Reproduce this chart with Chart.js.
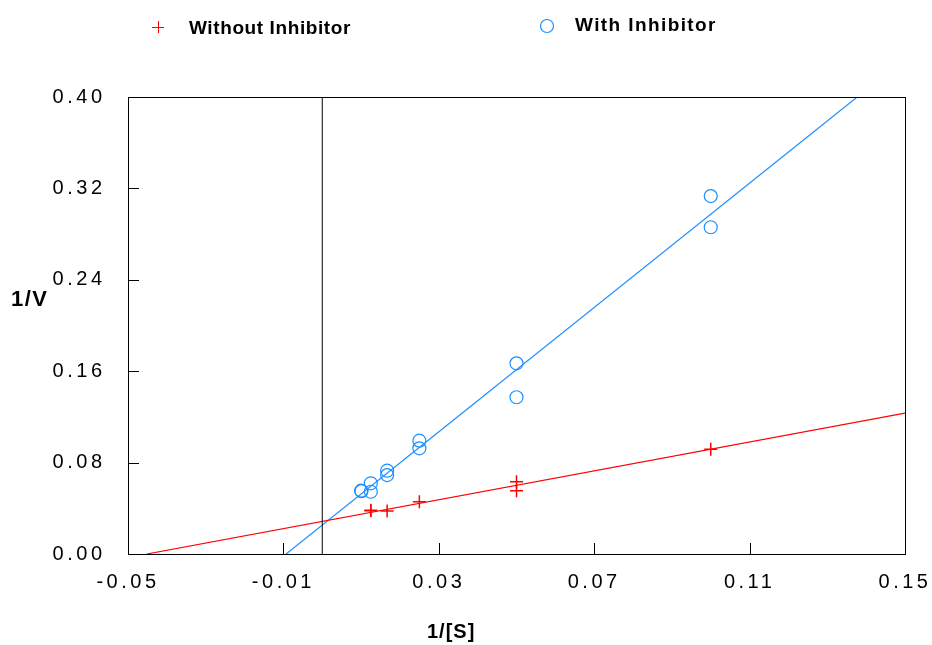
<!DOCTYPE html>
<html>
<head>
<meta charset="utf-8">
<script src="https://cdn.jsdelivr.net/npm/chart.js@4/dist/chart.umd.min.js"></script>
<style>
  html, body { margin: 0; padding: 0; background: #fff; }
  #wrap { width: 932px; height: 645px; }
</style>
</head>
<body>
<div id="wrap"><canvas id="lbChart"></canvas></div>
<script>
// data
const withoutX = [0.0125, 0.0125, 0.0167, 0.025, 0.05, 0.05, 0.1];
const withoutY = [0.0378, 0.0384, 0.0376, 0.0457, 0.0633, 0.0554, 0.0916];
const withX = [0.01, 0.0101, 0.0125, 0.0125, 0.0167, 0.0167, 0.025, 0.025, 0.05, 0.05, 0.1, 0.1];
const withY = [0.0554, 0.0550, 0.0619, 0.0545, 0.0729, 0.0691, 0.0992, 0.0925, 0.1669, 0.1372, 0.3133, 0.2860];

// fitted lines (end points)
const fitWithoutX = [-0.0452, 0.15];
const fitWithoutY = [0, 0.1234];
const fitWithX = [-0.0093, 0.1377];
const fitWithY = [0, 0.40];
const zeroLineX = [0, 0];
const zeroLineY = [0, 0.40];

const xTicks = [-0.05, -0.01, 0.03, 0.07, 0.11, 0.15];
const yTicks = [0.00, 0.08, 0.16, 0.24, 0.32, 0.40];

const RED = '#ff0000';
const BLUE = '#1e8fff';
const FONT = '"Liberation Sans", Arial, sans-serif';

function pts(xs, ys) {
    return xs.map((x, i) => ({ x: x, y: ys[i] }));
}

function spacedText(ctx, text, x, y, spacing) {
    ctx.letterSpacing = spacing + 'px';
    ctx.fillText(text, x, y);
}

// box, inner ticks, titles and legend
const decorPlugin = {
    id: 'decor',
    beforeDraw(chart) {
        chart.ctx.letterSpacing = '3.5px';
    },
    afterDraw(chart) {
        const ctx = chart.ctx;
        const a = chart.chartArea;
        const xs = chart.scales.x;
        const ys = chart.scales.y;
        ctx.save();
        ctx.letterSpacing = '0px';
        ctx.strokeStyle = '#000';
        ctx.lineWidth = 1;
        ctx.strokeRect(Math.round(a.left) + 0.5, Math.round(a.top) + 0.5,
            Math.round(a.right - a.left), Math.round(a.bottom - a.top));
        ctx.beginPath();
        xTicks.slice(1, -1).forEach(v => {
            const px = Math.round(xs.getPixelForValue(v)) + 0.5;
            ctx.moveTo(px, a.bottom);
            ctx.lineTo(px, a.bottom - 11);
        });
        yTicks.slice(1, -1).forEach(v => {
            const py = Math.round(ys.getPixelForValue(v)) + 0.5;
            ctx.moveTo(a.left, py);
            ctx.lineTo(a.left + 11, py);
        });
        ctx.stroke();

        ctx.fillStyle = '#000';
        ctx.textAlign = 'left';
        ctx.textBaseline = 'alphabetic';
        ctx.font = 'bold 22px ' + FONT;
        spacedText(ctx, '1/V', 11, 306, 1.5);
        ctx.font = 'bold 20px ' + FONT;
        spacedText(ctx, '1/[S]', 427, 638, 1);

        ctx.font = 'bold 19px ' + FONT;
        spacedText(ctx, 'Without Inhibitor', 189, 34, 0.6);
        spacedText(ctx, 'With Inhibitor', 575, 31, 1.4);

        ctx.strokeStyle = RED;
        ctx.beginPath();
        ctx.moveTo(152, 27.5); ctx.lineTo(164, 27.5);
        ctx.moveTo(158.5, 21); ctx.lineTo(158.5, 33);
        ctx.stroke();

        ctx.strokeStyle = BLUE;
        ctx.lineWidth = 1.2;
        ctx.beginPath();
        ctx.arc(547, 26, 6.5, 0, Math.PI * 2);
        ctx.stroke();
        ctx.restore();
    }
};

const chart = new Chart(document.getElementById('lbChart'), {
    type: 'scatter',
    data: {
        datasets: [
            {
                label: 'zero',
                data: pts(zeroLineX, zeroLineY),
                showLine: true,
                borderColor: '#000',
                borderWidth: 1,
                pointRadius: 0
            },
            {
                label: 'fit without',
                data: pts(fitWithoutX, fitWithoutY),
                showLine: true,
                borderColor: RED,
                borderWidth: 1.2,
                pointRadius: 0
            },
            {
                label: 'fit with',
                data: pts(fitWithX, fitWithY),
                showLine: true,
                borderColor: BLUE,
                borderWidth: 1.2,
                pointRadius: 0
            },
            {
                label: 'Without Inhibitor',
                data: pts(withoutX, withoutY),
                pointStyle: 'cross',
                pointRadius: 6.5,
                borderColor: RED,
                backgroundColor: RED,
                pointBorderWidth: 1.5
            },
            {
                label: 'With Inhibitor',
                data: pts(withX, withY),
                pointStyle: 'circle',
                pointRadius: 6.5,
                borderColor: BLUE,
                backgroundColor: 'rgba(0,0,0,0)',
                pointBorderWidth: 1.2
            }
        ]
    },
    options: {
        responsive: true,
        maintainAspectRatio: false,
        animation: false,
        events: [],
        layout: { padding: { top: 97, right: 27, left: 0, bottom: 0 } },
        plugins: {
            legend: { display: false },
            tooltip: { enabled: false }
        },
        scales: {
            x: {
                type: 'linear',
                min: -0.05,
                max: 0.15,
                afterBuildTicks: (scale) => { scale.ticks = xTicks.map(v => ({ value: v })); },
                afterFit: (scale) => {
                    scale.height = 91;
                    scale.paddingLeft = 0;
                    scale.paddingRight = 0;
                },
                grid: { display: false, drawTicks: false },
                border: { display: false },
                ticks: {
                    autoSkip: false,
                    maxRotation: 0,
                    padding: 16,
                    color: '#000',
                    font: { family: FONT, size: 20 },
                    callback: (v) => Number(v).toFixed(2)
                }
            },
            y: {
                type: 'linear',
                min: 0,
                max: 0.40,
                afterBuildTicks: (scale) => { scale.ticks = yTicks.map(v => ({ value: v })); },
                afterFit: (scale) => {
                    scale.width = 128;
                    scale.paddingTop = 0;
                    scale.paddingBottom = 0;
                },
                grid: { display: false, drawTicks: false },
                border: { display: false },
                ticks: {
                    autoSkip: false,
                    padding: 22.5,
                    color: '#000',
                    font: { family: FONT, size: 20 },
                    callback: (v) => Number(v).toFixed(2)
                }
            }
        }
    },
    plugins: [decorPlugin]
});
</script>
</body>
</html>
